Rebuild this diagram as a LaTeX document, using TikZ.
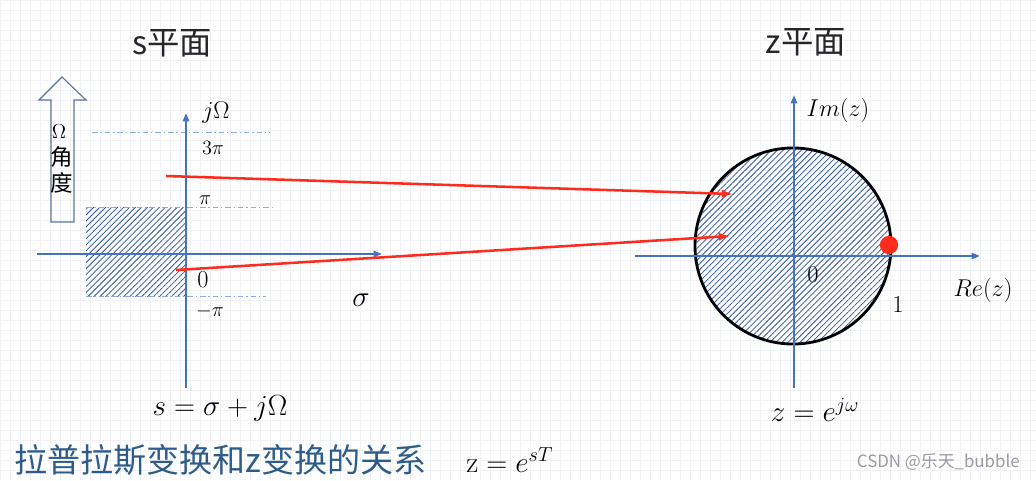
\documentclass[tikz,border=0pt]{standalone}
\usepackage{amsmath}
\usepackage{fontspec}
\newfontfamily\cjk{Noto Sans CJK SC}
\usetikzlibrary{arrows.meta,patterns.meta}
\definecolor{axisblue}{HTML}{4472C4}
\definecolor{hatchblue}{HTML}{2F5597}
\definecolor{dashblue}{HTML}{8FAADC}
\definecolor{mapred}{HTML}{FF2B1C}
\definecolor{captionblue}{HTML}{2E5C8A}
\definecolor{arrowgray}{HTML}{5A749C}
\definecolor{gridgray}{HTML}{F0F2F6}
\definecolor{markgray}{HTML}{9A9A9A}

\begin{document}
\begin{tikzpicture}[x=0.025cm,y=-0.025cm,
  axis/.style={draw=axisblue,line width=1.4pt,-{Triangle[length=6pt,width=4.5pt]}},
  level/.style={draw=dashblue,line width=0.6pt,dash pattern=on 4pt off 2pt on 1pt off 2pt},
  hatch/.style={pattern={Lines[angle=45,distance=3pt,line width=0.55pt]},pattern color=hatchblue},
  map/.style={draw=mapred,line width=1.8pt,-{Latex[length=8pt,width=6pt]}},
  lbl/.style={inner sep=0pt,font=\fontsize{15}{17}\selectfont},
  big/.style={inner sep=0pt,font=\fontsize{18}{21}\selectfont},
  title/.style={inner sep=0pt,text=black!85,font=\fontsize{23}{27}\selectfont\cjk}
]
\useasboundingbox (0,0) rectangle (1036,480);
% faint grid
\draw[gridgray,line width=0.4pt,step=0.25cm] (0,0) grid (1036,480);

% s plane
\node[title] (stitle) at (172,43) {s平面};
\path[hatch] (86,207) rectangle (186,296);
\coordinate (l3a) at (92,132);  \coordinate (l3b) at (270,132);
\coordinate (l1a) at (86,207);  \coordinate (l1b) at (272,207);
\coordinate (lma) at (86,296);  \coordinate (lmb) at (266,296);
\draw[level] (l3a) -- (l3b);
\draw[level] (l1a) -- (l1b);
\draw[level] (lma) -- (lmb);
\coordinate (sxl) at (37,254);  \coordinate (sxr) at (382,254);
\coordinate (syb) at (186,388); \coordinate (syt) at (186,113);
\draw[axis] (sxl) -- (sxr);
\draw[axis] (syb) -- (syt);
\node[lbl,font=\fontsize{17}{19}\selectfont] (jOm) at (216,113) {$j\Omega$};
\node[lbl] (thpi) at (213,148) {$3\pi$};
\node[lbl] (pi) at (205,200) {$\pi$};
\node[lbl,font=\fontsize{17}{19}\selectfont] (szero) at (203,280) {$0$};
\node[lbl] (mpi) at (210,311) {$-\pi$};
\node[big,font=\fontsize{20}{23}\selectfont] (sigma) at (361,300) {$\sigma$};

% angle arrow
\draw[arrowgray,line width=0.8pt] (51,222) -- (51,100) -- (39,100) -- (62,77)
  -- (86,100) -- (74,100) -- (74,222) -- cycle;
\node[lbl,font=\fontsize{15}{17}\selectfont] (aOm) at (59,132) {$\Omega$};
\node[lbl,font=\fontsize{16}{18}\selectfont\cjk] (ajiao) at (62,157) {角};
\node[lbl,font=\fontsize{16}{18}\selectfont\cjk] (adu) at (62,183) {度};

% z plane
\node[title] (ztitle) at (806,42) {z平面};
\node[circle,draw=black,line width=2pt,hatch,minimum size=4.9cm,
  inner sep=0pt] (unit) at (793,246) {};
\coordinate (zxl) at (635,256);  \coordinate (zxr) at (980,256);
\coordinate (zyb) at (794,388);  \coordinate (zyt) at (794,95);
\draw[axis] (zxl) -- (zxr);
\draw[axis] (zyb) -- (zyt);
\node[circle,fill=mapred,inner sep=0pt,minimum size=13pt] (pt) at (889,245) {};
\node[big] (imz) at (838,110) {$Im(z)$};
\node[big] (zzero) at (813,275) {$0$};
\node[big] (rez) at (983,290) {$Re(z)$};
\node[big] (one) at (898,305) {$1$};

% mapping
\coordinate (r1s) at (166,176);  \coordinate (r1e) at (733,194);
\coordinate (r2s) at (176,270);  \coordinate (r2e) at (730,236);
\draw[map] (r1s) -- (r1e);
\draw[map] (r2s) -- (r2e);

% formulas
\node[inner sep=0pt,font=\fontsize{22}{26}\selectfont] (seq) at (220,408) {$s=\sigma+j\Omega$};
\node[inner sep=0pt,font=\fontsize{22}{26}\selectfont] (zeq) at (815,410) {$z=e^{j\omega}$};
\node[inner sep=0pt,anchor=west,text=captionblue,font=\fontsize{23.5}{27}\selectfont\cjk] (cap)
  at (14,460) {拉普拉斯变换和z变换的关系};
\node[inner sep=0pt,anchor=west,font=\fontsize{21}{24}\selectfont] (zst) at (466,460) {$\mathrm{z}=e^{sT}$};
\node[inner sep=0pt,anchor=east,text=markgray,font=\fontsize{12}{14}\selectfont\cjk] (mark)
  at (1020,462) {CSDN @乐天\_bubble};
\end{tikzpicture}
\end{document}
